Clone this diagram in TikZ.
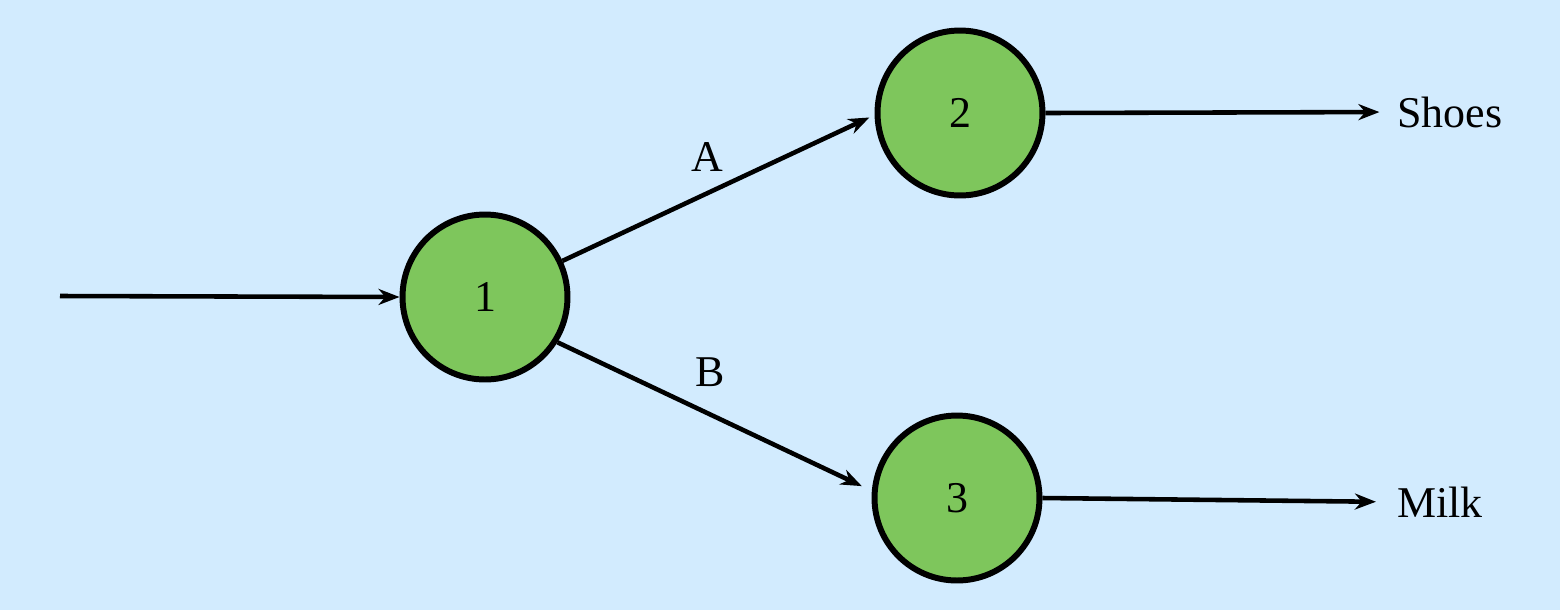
\documentclass[tikz,border=0pt]{standalone}
\usepackage{fontspec}
\setmainfont{Liberation Serif}
\usetikzlibrary{arrows.meta}
\definecolor{bgblue}{HTML}{D2EBFE}
\definecolor{nodegreen}{HTML}{7EC65C}
\begin{document}
\begin{tikzpicture}[x=0.02cm,y=-0.02cm,
  state/.style={circle,draw=black,fill=nodegreen,line width=3.4pt,minimum size=3.3cm,inner sep=0pt,font=\fontsize{25}{29}\selectfont},
  lbl/.style={font=\fontsize{25}{29}\selectfont,inner sep=0pt},
  conn/.style={line width=2.6pt,-{Stealth[length=0.42cm,width=0.32cm]}}]
\fill[bgblue] (0,0) rectangle (1560,610);
\useasboundingbox (0,0) rectangle (1560,610);
\node[state] (n1) at (485,297) {1};
\node[state] (n2) at (960,113) {2};
\node[state] (n3) at (957,498) {3};
\node[lbl,anchor=west] (shoes) at (1397,112) {Shoes};
\node[lbl,anchor=west] (milk) at (1397,502) {Milk};
\node[lbl] (la) at (707,157) {A};
\node[lbl] (lb) at (710,372) {B};
\coordinate (in) at (60,296);
\draw[conn] (in) -- (n1.west);
\draw[conn] (n1.25) -- ([xshift=-3]n2.183);
\draw[conn] (n1.-32) -- ([xshift=-6]n3.172);
\draw[conn,shorten >=10] (n2.east) -- (shoes.west);
\draw[conn,shorten >=12] (n3.east) -- (milk.west);
\end{tikzpicture}
\end{document}
